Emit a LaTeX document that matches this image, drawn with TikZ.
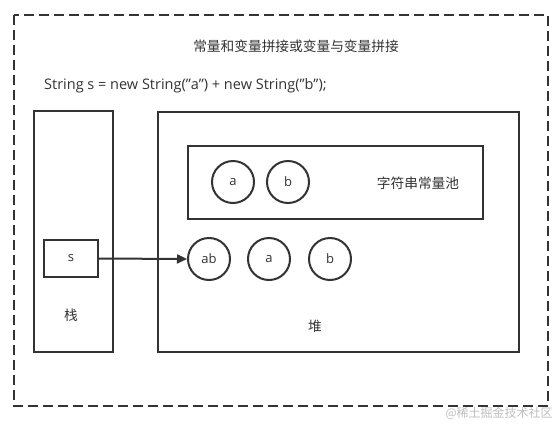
\documentclass[tikz,border=0pt]{standalone}
\usepackage{fontspec}
\setmainfont{Open Sans}
\newfontfamily\cjk{Noto Sans CJK SC}
\usetikzlibrary{arrows.meta}
\definecolor{ink}{HTML}{333333}
\newcommand{\dq}{\char"22\relax}
\begin{document}
\begin{tikzpicture}[x=1pt,y=-1pt,
  box/.style={draw=ink,line width=2pt},
  circ/.style={draw=ink,line width=2pt,circle,minimum size=42pt,inner sep=0pt,font=\fontsize{13}{13}\selectfont,text=ink},
  lbl/.style={font=\fontsize{13}{13}\selectfont,text=ink,inner sep=0pt},
  cjklbl/.style={font=\cjk\fontsize{13.7}{13.7}\selectfont,text=ink,inner sep=0pt},
  conn/.style={draw=ink,line width=2pt,-{Triangle[length=10pt,width=9pt]}}]
\useasboundingbox[fill=white] (0,0) rectangle (560,424);
\draw[ink,line width=2.6pt,dash pattern=on 10pt off 5pt] (14,15) rectangle (548,406);
\node[cjklbl] (title) at (296,46) {常量和变量拼接或变量与变量拼接};
\node[lbl,anchor=west,font=\fontsize{14.5}{14.5}\selectfont] (code) at (44,86) {String s = new String(\dq a\dq) + new String(\dq b\dq);};
\node[box,minimum width=79pt,minimum height=241pt,inner sep=0pt] (stack) at (73.5,231.5) {};
\node[box,minimum width=361pt,minimum height=240pt,inner sep=0pt] (heap) at (338.5,232) {};
\node[box,minimum width=295pt,minimum height=73pt,inner sep=0pt] (pool) at (335.5,182.5) {};
\node[box,minimum width=54pt,minimum height=37pt,inner sep=0pt,font=\fontsize{13}{13}\selectfont,text=ink] (s) at (71,258.5) {s};
\node[cjklbl] (stacklbl) at (71,315) {栈};
\node[cjklbl] (heaplbl) at (315,326) {堆};
\node[cjklbl] (poollbl) at (418,183) {字符串常量池};
\node[circ] (pa) at (233,182) {a};
\node[circ] (pb) at (288,182) {b};
\node[circ] (hab) at (209,259) {ab};
\node[circ] (ha) at (269,259) {a};
\node[circ] (hb) at (330,259) {b};
\draw[conn] (s.east) -- (hab.west);
\node[font=\cjk\fontsize{12}{12}\selectfont,text=black!25,inner sep=0pt] (wm) at (499,413) {@稀土掘金技术社区};
\end{tikzpicture}
\end{document}
